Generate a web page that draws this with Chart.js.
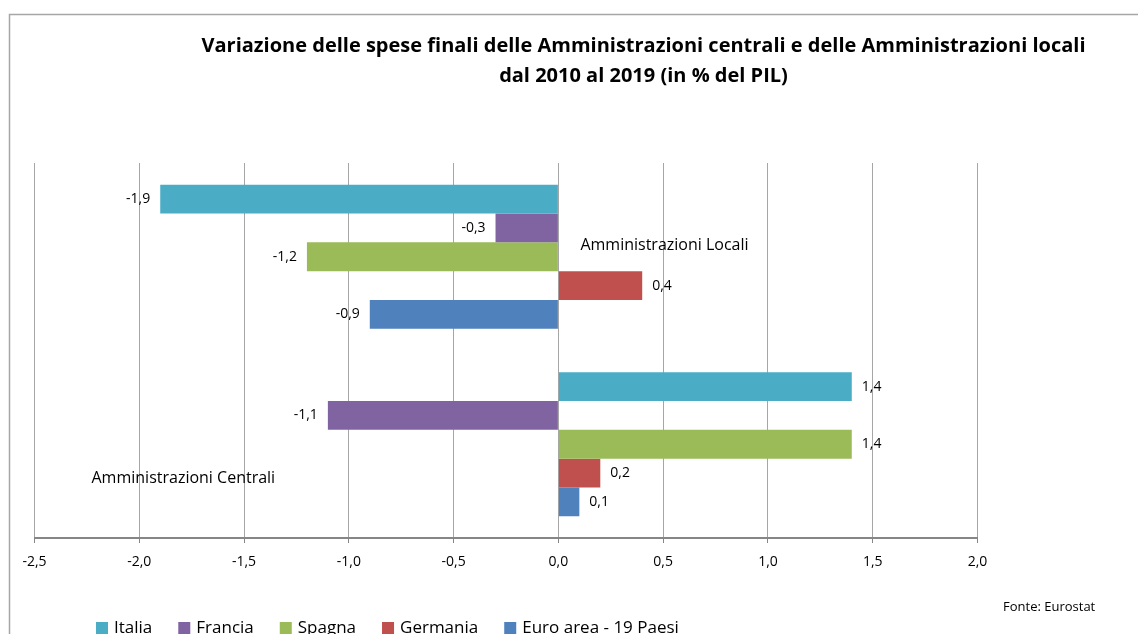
<!DOCTYPE html>
<html>
<head>
<meta charset="utf-8">
<script src="https://cdn.jsdelivr.net/npm/chart.js@4.4.1/dist/chart.umd.min.js"></script>
<style>
  html, body { margin: 0; padding: 0; background: #fff; overflow: hidden; }
  #wrap { position: relative; width: 1138px; height: 634px; }
</style>
</head>
<body>
<div id="wrap"><canvas id="bar-chart" width="1138" height="634"></canvas></div>
<script>
const categories = ["Amministrazioni Locali", "Amministrazioni Centrali"];
const seriesNames = ["Italia", "Francia", "Spagna", "Germania", "Euro area - 19 Paesi"];
const seriesColors = ["#4BACC6", "#8064A2", "#9BBB59", "#C0504D", "#4F81BD"];
const italia = [-1.9, 1.4];
const francia = [-0.3, -1.1];
const spagna = [-1.2, 1.4];
const germania = [0.4, 0.2];
const euroArea = [-0.9, 0.1];
const xTicks = [-2.5, -2.0, -1.5, -1.0, -0.5, 0.0, 0.5, 1.0, 1.5, 2.0];
const titleLines = [
  "Variazione delle spese finali delle Amministrazioni centrali e delle Amministrazioni locali",
  "dal 2010 al 2019 (in % del PIL)"
];
const sourceText = "Fonte: Eurostat";

const FONT = "'Open Sans', Lato, sans-serif";
const fmt = v => v.toFixed(1).replace(".", ",");

// title, category names, value labels, legend, source and frame
const decorations = {
  id: "decorations",
  afterDatasetsDraw(chart) {
    const ctx = chart.ctx;
    const x = chart.scales.x, y = chart.scales.y;
    ctx.save();
    ctx.fillStyle = "#000";

    // value labels
    ctx.font = "14px " + FONT;
    ctx.textBaseline = "middle";
    chart.data.datasets.forEach((ds, i) => {
      chart.getDatasetMeta(i).data.forEach((bar, j) => {
        const v = ds.data[j];
        if (v >= 0) {
          ctx.textAlign = "left";
          ctx.fillText(fmt(v), bar.x + 10, bar.y);
        } else {
          ctx.textAlign = "right";
          ctx.fillText(fmt(v), bar.x - 10, bar.y);
        }
      });
    });

    // category names inside plot
    ctx.font = "16px " + FONT;
    ctx.textAlign = "left";
    ctx.fillText(categories[0], x.getPixelForValue(0) + 22, y.getPixelForValue(0) - 11);
    ctx.fillText(categories[1], x.getPixelForValue(-2.5) + 57, y.getPixelForValue(1) + 34);
    ctx.restore();
  },
  afterDraw(chart) {
    const ctx = chart.ctx;
    ctx.save();
    // frame
    ctx.strokeStyle = "#a6a6a6";
    ctx.lineWidth = 1.5;
    ctx.strokeRect(9.5, 14.5, 1200, 700);

    // title
    ctx.fillStyle = "#000";
    ctx.font = "bold 20px " + FONT;
    ctx.textAlign = "center";
    ctx.textBaseline = "middle";
    ctx.fillText(titleLines[0], 643.5, 46);
    ctx.fillText(titleLines[1], 643.5, 76);

    // source
    ctx.font = "13px " + FONT;
    ctx.textAlign = "left";
    ctx.fillText(sourceText, 1003, 607);

    // legend (cut by the bottom edge like the original)
    ctx.font = "17px " + FONT;
    let lx = 96;
    chart.data.datasets.forEach(ds => {
      ctx.fillStyle = ds.backgroundColor;
      ctx.fillRect(lx, 622, 12, 12);
      ctx.fillStyle = "#000";
      ctx.fillText(ds.label, lx + 18, 628);
      lx += 18 + ctx.measureText(ds.label).width + 26;
    });
    ctx.restore();
  }
};

const seriesData = [italia, francia, spagna, germania, euroArea];

const config = {
  type: "bar",
  data: {
    labels: categories,
    datasets: seriesNames.map((name, i) => ({
      label: name,
      data: seriesData[i],
      backgroundColor: seriesColors[i],
      borderWidth: 0,
      categoryPercentage: 0.768,
      barPercentage: 1.0
    }))
  },
  options: {
    indexAxis: "y",
    responsive: false,
    animation: false,
    layout: {
      padding: { left: 34.5, right: 160.5, top: 163, bottom: 56 }
    },
    plugins: {
      legend: { display: false },
      title: { display: false },
      tooltip: { enabled: false }
    },
    scales: {
      x: {
        type: "linear",
        min: xTicks[0],
        max: xTicks[xTicks.length - 1],
        afterBuildTicks: scale => { scale.ticks = xTicks.map(v => ({ value: v })); },
        afterFit: scale => { scale.height = 40; },
        grid: {
          color: "#a6a6a6",
          lineWidth: 1,
          drawTicks: true,
          tickLength: 5,
          tickColor: "#868686"
        },
        border: { display: true, color: "#868686", width: 2 },
        ticks: {
          font: { family: FONT, size: 14 },
          color: "#000",
          padding: 11,
          callback: v => fmt(v)
        }
      },
      y: {
        display: false,
        grid: { display: false }
      }
    }
  },
  plugins: [decorations]
};

const ctx = document.getElementById("bar-chart").getContext("2d");
const myBar = new Chart(ctx, config);
</script>
</body>
</html>
